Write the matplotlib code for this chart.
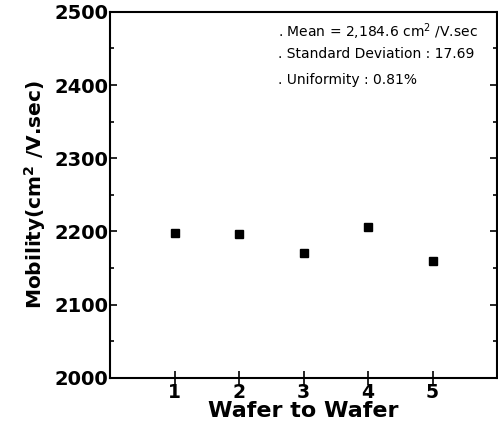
import matplotlib.pyplot as plt
from matplotlib.ticker import MultipleLocator

plt.rcParams['font.family'] = ['DejaVu Sans']

wafer = [1, 2, 3, 4, 5]
mobility = [2198, 2196, 2171, 2206, 2159]
notes = [". Mean = 2,184.6 cm$^2$ /V.sec",
         ". Standard Deviation : 17.69",
         ". Uniformity : 0.81%"]

fig = plt.figure(figsize=(4.98, 4.25), dpi=100)
ax = fig.add_axes([0.221, 0.111, 0.777, 0.861])

ax.plot(wafer, mobility, 's', color='black', markersize=6)

ax.set_xlim(0, 6)
ax.set_ylim(2000, 2500)
ax.set_xticks(wafer)
ax.yaxis.set_major_locator(MultipleLocator(100))
ax.yaxis.set_minor_locator(MultipleLocator(50))
ax.tick_params(axis='x', direction='inout', length=10, width=1.2, labelsize=13.5, pad=-1)
ax.tick_params(axis='y', which='both', direction='in', right=True, width=1.2, labelsize=14, pad=1)
ax.tick_params(axis='y', which='major', length=5)
ax.tick_params(axis='y', which='minor', length=3)
for lbl in ax.get_xticklabels() + ax.get_yticklabels():
    lbl.set_fontweight('bold')
for s in ax.spines.values():
    s.set_linewidth(1.5)

ax.set_xlabel("Wafer to Wafer", fontsize=16, fontweight='bold', labelpad=-1)
ax.set_ylabel("Mobility(cm$^\\mathbf{2}$ /V.sec)", fontsize=14.5, fontweight='bold', labelpad=5)

ys = [0.945, 0.886, 0.814]
for t, yy in zip(notes, ys):
    ax.text(0.435, yy, t, transform=ax.transAxes, fontsize=10, va='center')

fig.savefig("out.png", dpi=100)
